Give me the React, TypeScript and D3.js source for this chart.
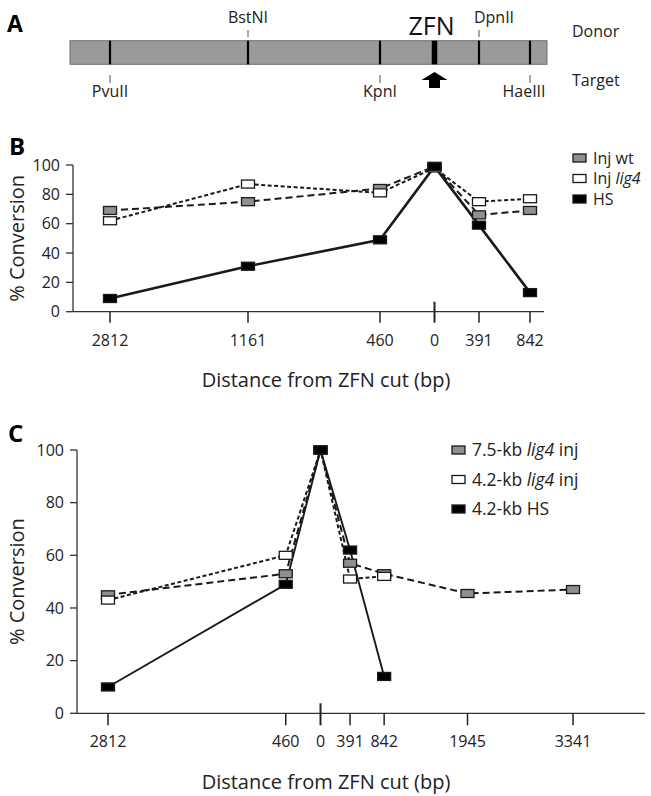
import React from "react";
import * as d3 from "d3";

// ---------- Panel A: restriction map ----------
const siteNames = ["PvuII", "BstNI", "KpnI", "ZFN", "DpnII", "HaeIII"];
const siteDist = [-2812, -1161, -460, 0, 391, 842];
const siteSide = ["below", "above", "below", "cut", "above", "below"];

// ---------- Panel B ----------
const bLabels = ["2812", "1161", "460", "0", "391", "842"];
const bDist = [-2812, -1161, -460, 0, 391, 842];
const bInjWt = [69, 75, 84, 99, 66, 69];
const bInjLig4 = [62, 87, 81, 98, 75, 77];
const bHS = [9, 31, 49, 99, 59, 13];

// ---------- Panel C ----------
const cLabels = ["2812", "460", "0", "391", "842", "1945", "3341"];
const cDist = [-2812, -460, 0, 391, 842, 1945, 3341];
const c75Dist = [-2812, -460, 0, 391, 842, 1945, 3341];
const c75Lig4Inj = [45, 53, 100, 57, 53, 45.5, 47];
const c42Dist = [-2812, -460, 0, 391, 842];
const c42Lig4Inj = [43, 60, 100, 51, 52];
const c42HS = [10, 49, 100, 62, 14];

const yTicks = [0, 20, 40, 60, 80, 100];

const FONT = "'Open Sans', 'Noto Sans', sans-serif";
const GRAY = "#8f8f8f";
const INK = "#1a1a1a";

type Series = {
  name: string;
  xs: number[];
  ys: number[];
  fill: string;
  dash: string | null;
  width: number;
};

function Marker({ x, y, fill }: { x: number; y: number; fill: string }) {
  return (
    <rect
      x={x - 6.5}
      y={y - 4}
      width={13}
      height={8}
      fill={fill}
      stroke={INK}
      strokeWidth={1.3}
    />
  );
}

function Plot({
  x,
  y,
  ticks,
  labels,
  series,
  x0,
  x1,
  y0,
  tickLen,
}: {
  x: (v: number) => number;
  y: (v: number) => number;
  ticks: number[];
  labels: string[];
  series: Series[];
  x0: number;
  x1: number;
  y0: number;
  tickLen: number;
}) {
  const line = (s: Series) =>
    d3
      .line<number>()
      .x((_, i) => x(s.xs[i]))
      .y((d) => y(d))(s.ys) as string;
  return (
    <g>
      <line x1={x0} x2={x0} y1={y(100)} y2={y0} stroke="#333" strokeWidth={1.3} />
      {yTicks.map((t) => (
        <g key={t}>
          <line x1={x0 - 7} x2={x0} y1={y(t)} y2={y(t)} stroke="#333" strokeWidth={1.3} />
          <text
            x={x0 - 13}
            y={y(t)}
            dy="0.36em"
            textAnchor="end"
            fontSize={16}
            fill="#222"
          >
            {t}
          </text>
        </g>
      ))}
      <line x1={x0} x2={x1} y1={y0} y2={y0} stroke="#333" strokeWidth={1.3} />
      {ticks.map((t, i) => (
        <g key={i}>
          <line
            x1={x(t)}
            x2={x(t)}
            y1={t === 0 ? y0 - 10 : y0}
            y2={y0 + tickLen}
            stroke="#222"
            strokeWidth={t === 0 ? 2 : 1.5}
          />
          <text x={x(t)} y={y0 + 34} textAnchor="middle" fontSize={16} fill="#222">
            {labels[i]}
          </text>
        </g>
      ))}
      {series.map((s, si) => (
        <path
          key={"l" + si}
          d={line(s)}
          fill="none"
          stroke={INK}
          strokeWidth={s.width}
          strokeDasharray={s.dash ?? undefined}
        />
      ))}
      {series.map((s, si) => (
        <g key={"m" + si}>
          {s.ys.map((v, i) => (
            <Marker key={i} x={x(s.xs[i])} y={y(v)} fill={s.fill} />
          ))}
        </g>
      ))}
    </g>
  );
}

function Legend({
  x,
  y,
  gap,
  size,
  items,
}: {
  x: number;
  y: number;
  gap: number;
  size: number;
  items: { fill: string; label: React.ReactNode }[];
}) {
  return (
    <g>
      {items.map((it, i) => (
        <g key={i} transform={`translate(${x},${y + i * gap})`}>
          <rect x={0} y={-4} width={13} height={8} fill={it.fill} stroke={INK} strokeWidth={1.3} />
          <text x={20} y={0} dy="0.36em" fontSize={size} fill="#222">
            {it.label}
          </text>
        </g>
      ))}
    </g>
  );
}

export default function App() {
  // shared map scale (panel A and B use the same physical map)
  const mapX = d3
    .scaleLinear()
    .domain(siteDist)
    .range([110, 248, 380, 434.5, 479, 530]);

  const barTop = 40.7;
  const barBot = 64.3;

  const yB = d3.scaleLinear().domain([0, 100]).range([311.7, 165]);
  const seriesB: Series[] = [
    { name: "Inj wt", xs: bDist, ys: bInjWt, fill: GRAY, dash: "7,4", width: 2 },
    { name: "Inj lig4", xs: bDist, ys: bInjLig4, fill: "#fff", dash: "4,2.5", width: 2 },
    { name: "HS", xs: bDist, ys: bHS, fill: "#000", dash: null, width: 2.6 },
  ];

  const xC = d3.scaleLinear().domain([-2812, 3341]).range([108, 573]);
  const yC = d3.scaleLinear().domain([0, 100]).range([713.3, 450]);
  const seriesC: Series[] = [
    { name: "7.5-kb lig4 inj", xs: c75Dist, ys: c75Lig4Inj, fill: GRAY, dash: "7,4", width: 2 },
    { name: "4.2-kb lig4 inj", xs: c42Dist, ys: c42Lig4Inj, fill: "#fff", dash: "4,2.5", width: 2 },
    { name: "4.2-kb HS", xs: c42Dist, ys: c42HS, fill: "#000", dash: null, width: 1.9 },
  ];

  return (
    <svg
      width={651}
      height={796}
      style={{ position: "absolute", left: 0, top: 0, fontFamily: FONT }}
      fontFamily={FONT}
    >
      <rect width={651} height={796} fill="#fff" />

      {/* ---------- Panel A ---------- */}
      <text x={7} y={32} fontSize={23} fontWeight="bold" fill="#000">A</text>
      <rect
        x={70}
        y={barTop}
        width={547 - 70}
        height={barBot - barTop}
        fill="#9a9a9a"
        stroke="#6f6f6f"
        strokeWidth={1}
      />
      {siteNames.map((n, i) => {
        const sx = mapX(siteDist[i]);
        const side = siteSide[i];
        if (side === "cut") {
          return (
            <g key={n}>
              <line x1={sx} x2={sx} y1={barTop} y2={barBot} stroke="#000" strokeWidth={5.5} />
              <text x={sx - 3} y={35} textAnchor="middle" fontSize={25} fill="#111">{n}</text>
              <path
                d={`M${sx - 13},80 L${sx},72 L${sx + 13},80 L${sx + 5.5},80 L${sx + 5.5},88 L${sx - 5.5},88 L${sx - 5.5},80 Z`}
                fill="#000"
              />
            </g>
          );
        }
        return (
          <g key={n}>
            <line x1={sx} x2={sx} y1={barTop} y2={barBot} stroke="#000" strokeWidth={2.2} />
            {side === "above" ? (
              <>
                <line x1={sx} x2={sx} y1={30} y2={37} stroke="#777" strokeWidth={1.3} />
                <text x={sx + (i === 4 ? 15 : 0)} y={23} textAnchor="middle" fontSize={16} fill="#222">{n}</text>
              </>
            ) : (
              <>
                <line x1={sx} x2={sx} y1={75} y2={83} stroke="#777" strokeWidth={1.3} />
                <text x={sx + (i === 5 ? -6 : 0)} y={97} textAnchor="middle" fontSize={16} fill="#222">{n}</text>
              </>
            )}
          </g>
        );
      })}
      <text x={572} y={37} fontSize={16} fill="#222">Donor</text>
      <text x={572} y={86} fontSize={16} fill="#222">Target</text>

      {/* ---------- Panel B ---------- */}
      <text x={9} y={155} fontSize={24} fontWeight="bold" fill="#000">B</text>
      <Plot
        x={(v) => mapX(v)}
        y={(v) => yB(v)}
        ticks={bDist}
        labels={bLabels}
        series={seriesB}
        x0={73}
        x1={544}
        y0={yB(0)}
        tickLen={11}
      />
      <text
        transform={`translate(24,${(yB(0) + yB(100)) / 2}) rotate(-90)`}
        textAnchor="middle"
        fontSize={20}
        fill="#222"
      >
        % Conversion
      </text>
      <text x={326} y={387} textAnchor="middle" fontSize={20} fill="#222">
        Distance from ZFN cut (bp)
      </text>
      <Legend
        x={573}
        y={158}
        gap={20.5}
        size={16}
        items={[
          { fill: GRAY, label: "Inj wt" },
          { fill: "#fff", label: <>Inj <tspan fontStyle="italic">lig4</tspan></> },
          { fill: "#000", label: "HS" },
        ]}
      />

      {/* ---------- Panel C ---------- */}
      <text x={8} y={442} fontSize={24} fontWeight="bold" fill="#000">C</text>
      <Plot
        x={(v) => xC(v)}
        y={(v) => yC(v)}
        ticks={cDist}
        labels={cLabels}
        series={seriesC}
        x0={77}
        x1={645}
        y0={yC(0)}
        tickLen={12}
      />
      <text
        transform={`translate(24,${(yC(0) + yC(100)) / 2}) rotate(-90)`}
        textAnchor="middle"
        fontSize={20}
        fill="#222"
      >
        % Conversion
      </text>
      <text x={326} y={789} textAnchor="middle" fontSize={20} fill="#222">
        Distance from ZFN cut (bp)
      </text>
      <Legend
        x={452}
        y={450}
        gap={29.5}
        size={17.5}
        items={[
          { fill: GRAY, label: <>7.5-kb <tspan fontStyle="italic">lig4</tspan> inj</> },
          { fill: "#fff", label: <>4.2-kb <tspan fontStyle="italic">lig4</tspan> inj</> },
          { fill: "#000", label: "4.2-kb HS" },
        ]}
      />
    </svg>
  );
}
